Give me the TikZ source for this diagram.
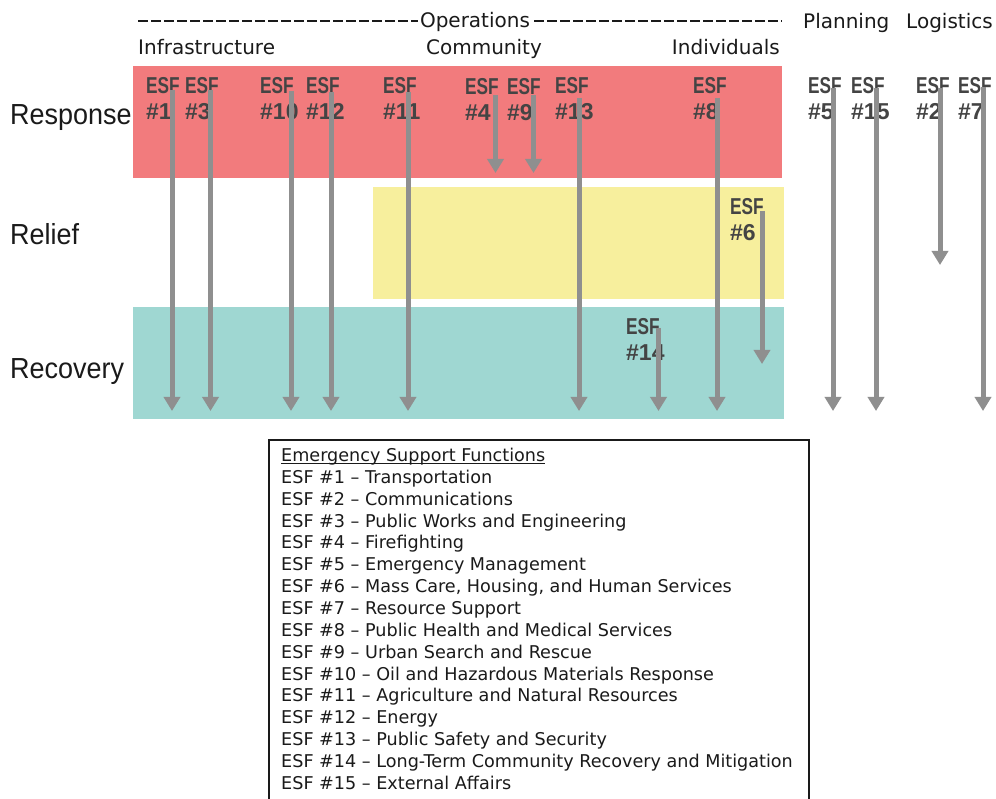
\documentclass[tikz,border=0pt]{standalone}
\usepackage{fontspec}
\usetikzlibrary{arrows.meta}
\newfontfamily\hdrfont{DejaVu Sans}
\newfontfamily\rowfont[FakeStretch=0.93]{Liberation Sans}
\newfontfamily\esffont[FakeStretch=0.75]{Liberation Sans}
\newfontfamily\esfnumfont{Liberation Sans}
\newcommand\myul[1]{\setbox0\hbox{#1}\rlap{\rule[-2.6pt]{\wd0}{0.9pt}}\box0}
\definecolor{bandred}{HTML}{F27B7D}
\definecolor{bandyellow}{HTML}{F7EF9D}
\definecolor{bandteal}{HTML}{9FD7D2}
\definecolor{arrowgray}{HTML}{8F8F8F}
\definecolor{esftext}{HTML}{444444}
\definecolor{ink}{HTML}{1A1A1A}
\tikzset{
  band/.style={inner sep=0pt, outer sep=0pt, anchor=north west},
  rowlabel/.style={anchor=base west, inner sep=0pt, text=ink, font=\rowfont\fontsize{29}{32}\selectfont},
  hdr/.style={inner sep=0pt, anchor=base, text=ink, font=\hdrfont\fontsize{20}{24}\selectfont},
  hdrdash/.style={draw=ink, line width=2pt, dash pattern=on 9.5pt off 3.5pt},
  esflabel/.style={anchor=north west, inner sep=0pt, align=left, text=esftext,
    font=\esffont\bfseries\fontsize{23}{26}\selectfont},
  esfarrow/.style={draw=arrowgray, line width=5pt, -{Triangle[width=16pt,length=14pt]}},
  legendbox/.style={draw=ink, line width=1.5pt, anchor=north west, inner sep=0pt, minimum width=540pt, minimum height=362pt},
  legendtext/.style={anchor=north west, inner sep=0pt, align=left, text=ink,
    font=\hdrfont\fontsize{17.6}{21.85}\selectfont}
}
\begin{document}
\begin{tikzpicture}[x=1pt,y=-1pt]
\useasboundingbox (0,0) rectangle (996,799);
\fill[white] (0,0) rectangle (996,799);
% bands
\node[band, fill=bandred, minimum width=649pt, minimum height=112pt] (bresp) at (133,66) {};
\node[band, fill=bandyellow, minimum width=411pt, minimum height=112pt] (brel) at (373,187) {};
\node[band, fill=bandteal, minimum width=651pt, minimum height=112pt] (brec) at (133,307) {};
% row labels
\node[rowlabel] (response) at (10,125) {Response};
\node[rowlabel] (relief) at (10,244.5) {Relief};
\node[rowlabel] (recovery) at (10,379) {Recovery};
% header
\node[hdr] (ops) at (475,28) {Operations};
\coordinate (dA) at (138,21.5);
\coordinate (dB) at (418,21.5);
\coordinate (dC) at (534,21.5);
\coordinate (dD) at (782,21.5);
\draw[hdrdash] (dA) -- (dB);
\draw[hdrdash] (dC) -- (dD);
\node[hdr, anchor=base west] (infra) at (138,55) {Infrastructure};
\node[hdr] (comm) at (484,55) {Community};
\node[hdr, anchor=base east] (indiv) at (780,55) {Individuals};
\node[hdr, anchor=base west] (plan) at (803,29) {Planning};
\node[hdr, anchor=base west] (logi) at (906,29) {Logistics};
% ESF labels
\foreach \n/\x/\y in {1/146/77.5, 3/185/77.5, 10/260/77.5, 12/306/77.5, 11/383/77.5,
  4/465/78.5, 9/507/78.5, 13/555/77.5, 8/693/77.5, 5/808/77.5, 15/851/77.5,
  2/916/77.5, 7/958/77.5, 6/730/198.5, 14/626/318.5}
  {\node[esflabel] (l\n) at (\x,\y) {ESF\\{\esfnumfont\#\n}};}
% arrows
\foreach \n/\x/\t/\b in {1/172/90/411, 3/210.5/90/411, 10/291/91/411, 12/331/92/411,
  11/408/92/411, 4/495.5/95/173, 9/533.5/95/173, 13/579/98/411, 8/717/98/411,
  5/833/88/411, 15/876/88/411, 2/940/88/265, 7/983/87/411, 6/762/211/364, 14/658.5/328/411}
  {\coordinate (s\n) at (\x,\t);
   \coordinate (e\n) at (\x,\b);
   \draw[esfarrow] (s\n) -- (e\n);}
% legend
\node[legendbox] (box) at (268,439) {};
\node[legendtext] (legend) at (281,448) {\myul{Emergency Support Functions}\\
ESF \#1 – Transportation\\
ESF \#2 – Communications\\
ESF \#3 – Public Works and Engineering\\
ESF \#4 – Firefighting\\
ESF \#5 – Emergency Management\\
ESF \#6 – Mass Care, Housing, and Human Services\\
ESF \#7 – Resource Support\\
ESF \#8 – Public Health and Medical Services\\
ESF \#9 – Urban Search and Rescue\\
ESF \#10 – Oil and Hazardous Materials Response\\
ESF \#11 – Agriculture and Natural Resources\\
ESF \#12 – Energy\\
ESF \#13 – Public Safety and Security\\
ESF \#14 – Long-Term Community Recovery and Mitigation\\
ESF \#15 – External Affairs};
\end{tikzpicture}
\end{document}
